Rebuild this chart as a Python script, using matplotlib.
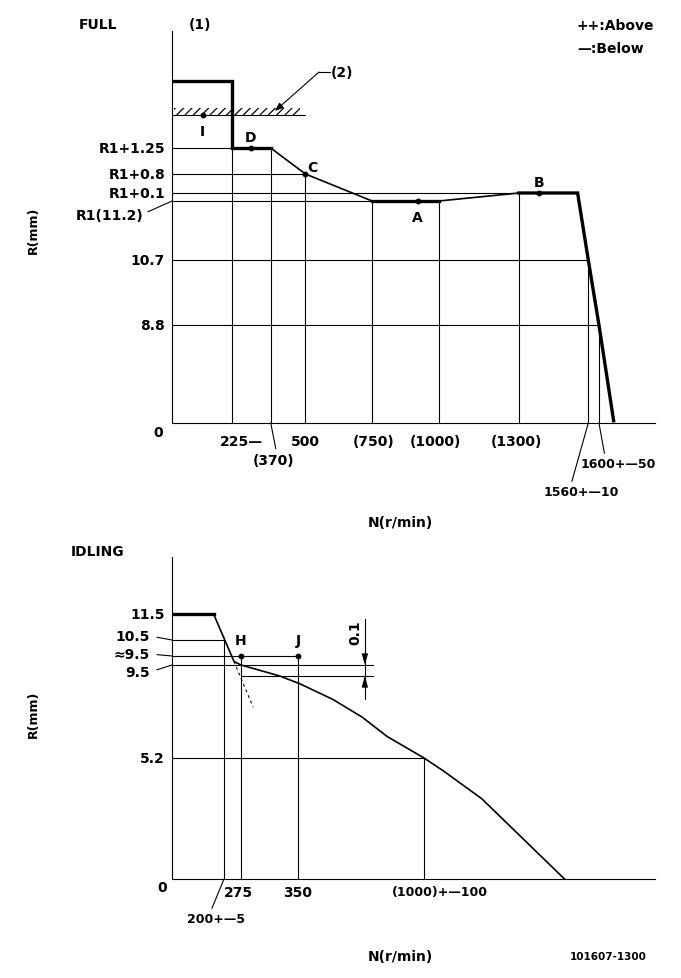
import numpy as np
import matplotlib
matplotlib.use('Agg')
import matplotlib.pyplot as plt
import matplotlib.transforms as mtransforms

W, H, DPI = 681, 979, 100

# ---- FULL load curve (rpm / rack position mm)
full_rpm = [0, 225, 225, 370, 500, 750, 1000, 1300, 1520, 1560, 1600, 1655]
full_r = [13.5, 13.5, 12.45, 12.45, 12.0, 11.2, 11.2, 11.3, 11.3, 10.7, 8.8, 0.2]
full_heavy = [(0, 4), (5, 7), (7, 12)]      # slices drawn with the heavy pen
full_pt_names = ['I', 'D', 'C', 'A', 'B']
full_pt_rpm = [115, 295, 500, 920, 1375]
full_pt_r = [13.0, 12.45, 12.0, 11.2, 11.3]
full_xticks = [225, 500, 750, 1000, 1300]
full_xlabels = ['225—', '500', '(750)', '(1000)', '(1300)']
full_yticks = [12.45, 12.0, 11.3, 10.7, 8.8]
full_ylabels = ['R1+1.25', 'R1+0.8', 'R1+0.1', '10.7', '8.8']
full_r1 = 11.2
full_stop_r = 13.0
# reference lines: (R, rpm where it ends) and (rpm, R where it ends)
full_hlines = [(12.45, 225), (12.0, 500), (11.3, 1300), (11.2, 750), (10.7, 1560), (8.8, 1600), (13.0, 500)]
full_vlines = [(225, 12.45), (370, 12.45), (500, 12.0), (750, 11.2), (1000, 11.2),
               (1300, 11.3), (1560, 10.7), (1600, 8.8)]

# ---- IDLING curve
idle_rpm = [0, 160, 244, 275, 326, 360, 530, 680, 810, 1000, 1050, 1150, 1365]
idle_r = [11.5, 11.5, 9.52, 9.5, 9.4, 9.0, 8.2, 7.3, 6.3, 5.2, 4.65, 3.45, 0]
idle_dash_rpm = [244, 291]
idle_dash_r = [9.52, 7.8]
idle_pt_names = ['H', 'J']
idle_pt_rpm = [275, 350]
idle_pt_r = [9.55, 9.55]
idle_xticks = [275, 350, 1000]
idle_xlabels = ['275', '350', '(1000)+—100']
idle_yticks = [11.5, 5.2]
idle_ylabels = ['11.5', '5.2']
idle_hlines = [(10.5, 0, 200), (9.55, 0, 350), (9.5, 0, 735), (9.4, 275, 735), (5.2, 0, 1000)]
idle_vlines = [(200, 10.5), (275, 9.55), (350, 9.55), (1000, 5.2)]
idle_tol = (9.4, 9.5)
idle_dim_rpm = 695

# the sheet is not drawn to scale: anchors of the schematic axes (value -> sheet pixel)
full_r_anchor = [0, 8.8, 10.7, 11.2, 11.3, 12.0, 12.45, 13.0, 13.5, 14.5]
full_r_px = [424, 326, 261, 202, 194, 175, 149, 116, 82, 32]
idle_rpm_anchor = [0, 200, 275, 350, 1000, 1600]
idle_rpm_px = [172, 224, 241, 298, 424, 655]
idle_r_anchor = [0, 5.2, 9.4, 9.5, 9.55, 10.5, 11.5, 13.2]
idle_r_px = [880, 759, 677, 666, 657, 641, 615, 558]

plt.rcParams['font.family'] = ['DejaVu Sans']
plt.rcParams['font.weight'] = 'bold'
plt.rcParams['font.size'] = 10
plt.rcParams['hatch.linewidth'] = 0.9

THIN, MID, HEAVY = 0.8, 1.2, 2.4


def _pw(v, src, dst):
    v = np.asarray(v, float)
    out = np.interp(v, src, dst)
    out = np.where(v < src[0], dst[0] + (v - src[0]) * (dst[1] - dst[0]) / (src[1] - src[0]), out)
    out = np.where(v > src[-1], dst[-1] + (v - src[-1]) * (dst[-1] - dst[-2]) / (src[-1] - src[-2]), out)
    return out


def sheet_scale(values, px, flip=False):
    src = np.asarray(values, float)
    dst = np.asarray(px, float) * (-1 if flip else 1)
    return (lambda v: _pw(v, src, dst)), (lambda v: _pw(v, dst, src))


fig = plt.figure(figsize=(W / DPI, H / DPI), dpi=DPI)


def frame(left, top, right, bottom):
    ax = fig.add_axes([left / W, 1 - bottom / H, (right - left) / W, (bottom - top) / H])
    ax.patch.set_alpha(0)
    for s in ['top', 'right']:
        ax.spines[s].set_visible(False)
    for s in ['left', 'bottom']:
        ax.spines[s].set_linewidth(THIN)
    return ax


def no_ticks(ax):
    # scales reset the locators, so clear ticks after they are set
    ax.set_xticks([])
    ax.set_yticks([])
    ax.minorticks_off()


def shift(dx, dy):
    # dy > 0 moves down the sheet
    return mtransforms.ScaledTranslation(dx / DPI, -dy / DPI, fig.dpi_scale_trans)


def sheet_text(x, y, s, **kw):
    fig.text(x / W, 1 - y / H, s, **kw)


def leader(ax, s, xy, off, rel, size=10):
    ax.annotate(s, xy=xy, xytext=off, textcoords='offset pixels', ha='center', va='center',
                fontsize=size,
                arrowprops=dict(arrowstyle='-', lw=THIN, color='k', shrinkA=1, shrinkB=0, relpos=rel))


def draw_full(ax):
    ax.set_yscale('function', functions=sheet_scale(full_r_anchor, full_r_px, flip=True))
    ax.set_xlim(0, 1810)
    ax.set_ylim(0, 14.5)
    no_ticks(ax)

    for r, n in full_hlines:
        ax.plot([0, n], [r, r], color='k', lw=THIN)
    for n, r in full_vlines:
        ax.plot([n, n], [0, r], color='k', lw=THIN)

    # stopper hatch (2)
    ax.fill_between([8, 480], full_stop_r, full_stop_r + 0.11, facecolor='none',
                    edgecolor='k', hatch='////', linewidth=0)

    ax.plot(full_rpm, full_r, color='k', lw=MID, solid_joinstyle='miter')
    for a, b in full_heavy:
        ax.plot(full_rpm[a:b], full_r[a:b], color='k', lw=HEAVY, solid_joinstyle='miter')

    ax.plot(full_pt_rpm, full_pt_r, 'o', color='k', ms=3.2)
    for name, n, r, off in zip(full_pt_names, full_pt_rpm, full_pt_r,
                               [(0, -16), (0, 11), (7, 7), (0, -16), (0, 11)]):
        ax.annotate(name, (n, r), xytext=off, textcoords='offset pixels', ha='center', va='center')

    for n, s, dx in zip(full_xticks, full_xlabels, [9, 0, 1, -3, -2]):
        ax.text(n, 0, s, transform=ax.get_xaxis_transform() + shift(dx, 18), ha='center', va='center')
    for r, s in zip(full_yticks, full_ylabels):
        ax.text(0, r, s, transform=ax.get_yaxis_transform() + shift(-7, 0), ha='right', va='center')
    ax.text(0, 0, '0', transform=ax.transAxes + shift(-14, 9), ha='center', va='center')

    leader(ax, 'R1(11.2)', (0, full_r1), (-62, -14), (1.0, 0.6))
    leader(ax, '(370)', (370, 0), (3, -37), (0.57, 1.0))
    leader(ax, '1600+—50', (1600, 0), (19, -41), (0.33, 1.0), size=9)
    leader(ax, '1560+—10', (1560, 0), (-7, -69), (0.36, 1.0), size=9)

    # leader of the stopper mark (2)
    ax.annotate('', xy=(386, 13.06), xytext=(551, 13.68),
                arrowprops=dict(arrowstyle='-|>,head_length=0.5,head_width=0.2', mutation_scale=10,
                                lw=THIN, color='k', shrinkA=0, shrinkB=0))
    ax.plot([551, 592], [13.68, 13.68], color='k', lw=THIN, clip_on=False)
    ax.text(596, 13.68, '(2)', ha='left', va='center')


def draw_idle(ax):
    ax.set_xscale('function', functions=sheet_scale(idle_rpm_anchor, idle_rpm_px))
    ax.set_yscale('function', functions=sheet_scale(idle_r_anchor, idle_r_px, flip=True))
    ax.set_xlim(0, 1600)
    ax.set_ylim(0, 13.2)
    no_ticks(ax)

    for r, n0, n1 in idle_hlines:
        ax.plot([n0, n1], [r, r], color='k', lw=THIN)
    for n, r in idle_vlines:
        ax.plot([n, n], [0, r], color='k', lw=THIN)

    ax.plot(idle_rpm, idle_r, color='k', lw=MID, solid_joinstyle='miter')
    ax.plot(idle_rpm[:2], idle_r[:2], color='k', lw=HEAVY)
    ax.plot(idle_dash_rpm, idle_dash_r, color='k', lw=THIN, dashes=(2.5, 3))

    ax.plot(idle_pt_rpm, idle_pt_r, 'o', color='k', ms=3.2)
    for name, n, r in zip(idle_pt_names, idle_pt_rpm, idle_pt_r):
        ax.annotate(name, (n, r), xytext=(0, 16), textcoords='offset pixels', ha='center', va='center')

    # 0.1 tolerance dimension
    ax.plot([idle_dim_rpm, idle_dim_rpm], [8.22, 11.3], color='k', lw=THIN)
    head = dict(arrowstyle='-|>,head_length=0.65,head_width=0.18', mutation_scale=10,
                lw=THIN, color='k', shrinkA=0, shrinkB=0)
    ax.annotate('', xy=(idle_dim_rpm, idle_tol[1]), xytext=(0, 10), textcoords='offset pixels', arrowprops=head)
    ax.annotate('', xy=(idle_dim_rpm, idle_tol[0]), xytext=(0, -10), textcoords='offset pixels', arrowprops=head)
    ax.text(644, 10.81, '%.1f' % (idle_tol[1] - idle_tol[0]), rotation=90, ha='center', va='center')

    for n, s, dx in zip(idle_xticks, idle_xlabels, [-3, 0, 16]):
        ax.text(n, 0, s, transform=ax.get_xaxis_transform() + shift(dx, 13), ha='center', va='center',
                fontsize=9 if '+' in s else 10)
    for r, s in zip(idle_yticks, idle_ylabels):
        ax.text(0, r, s, transform=ax.get_yaxis_transform() + shift(-7, 0), ha='right', va='center')
    ax.text(0, 0, '0', transform=ax.transAxes + shift(-10, 8), ha='center', va='center')

    for s, r, dy in [('10.5', 10.5, 4), ('≈9.5', 9.55, 2), ('9.5', 9.5, -7)]:
        ax.annotate(s, xy=(0, r), xytext=(-22, dy), textcoords='offset pixels', ha='right', va='center',
                    arrowprops=dict(arrowstyle='-', lw=THIN, color='k', shrinkA=3, shrinkB=0, relpos=(1, 0.5)))
    leader(ax, '200+—5', (200, 0), (-8, -40), (0.4, 1.0), size=9)


ax1 = frame(172, 32, 655, 424)
draw_full(ax1)
ax2 = frame(172, 558, 655, 880)
draw_idle(ax2)

sheet_text(79, 25, 'FULL', ha='left', va='center')
sheet_text(200, 25, '(1)', ha='center', va='center')
sheet_text(577, 26, '++:Above', ha='left', va='center')
sheet_text(577, 49, '—:Below', ha='left', va='center')
sheet_text(400, 523, 'N(r/min)', ha='center', va='center')
sheet_text(33, 230, 'R(mm)', ha='center', va='center', rotation=90, fontsize=9)
sheet_text(71, 552, 'IDLING', ha='left', va='center')
sheet_text(33, 714, 'R(mm)', ha='center', va='center', rotation=90, fontsize=9)
sheet_text(400, 957, 'N(r/min)', ha='center', va='center')
sheet_text(608, 957, '101607-1300', ha='center', va='center', fontsize=7.5)

fig.savefig('out.png', dpi=DPI)
